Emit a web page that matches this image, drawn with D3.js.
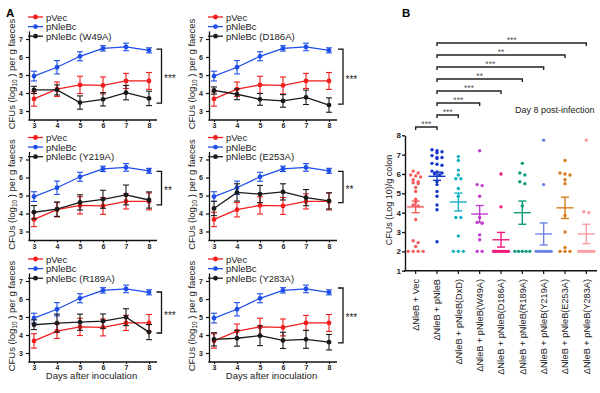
<!DOCTYPE html>
<html><head><meta charset="utf-8">
<script src="https://cdn.jsdelivr.net/npm/d3@7"></script>
<style>
body{margin:0;background:#fff}
svg{display:block}
text{font-family:"Liberation Sans",Arial,sans-serif}
</style>
</head><body>
<svg id="c" width="600" height="393"></svg>
<script>
// ---------- Panel A data ----------
const days = [3,4,5,6,7,8];
const pVecMean = [3.67,4.21,4.45,4.42,4.67,4.67];
const pVecErr  = [0.40,0.40,0.48,0.47,0.42,0.47];
const pNleBcMean = [4.94,5.43,6.04,6.48,6.56,6.37];
const pNleBcErr  = [0.27,0.37,0.25,0.15,0.21,0.14];
const mutantLabels = ["pNleBc (W49A)","pNleBc (D186A)","pNleBc (Y219A)","pNleBc (E253A)","pNleBc (R189A)","pNleBc (Y283A)"];
const w49aMean  = [4.17,4.17,3.47,3.65,4.02,3.70];
const w49aErr   = [0.20,0.28,0.37,0.37,0.40,0.40];
const d186aMean = [4.14,3.93,3.65,3.56,3.76,3.33];
const d186aErr  = [0.20,0.30,0.33,0.35,0.40,0.40];
const y219aMean = [4.07,4.24,4.62,4.79,5.03,4.75];
const y219aErr  = [0.37,0.40,0.42,0.50,0.55,0.45];
const e253aMean = [4.28,5.17,5.08,5.20,4.88,4.70];
const e253aErr  = [0.40,0.48,0.48,0.45,0.45,0.45];
const r189aMean = [4.57,4.66,4.71,4.77,4.99,4.16];
const r189aErr  = [0.27,0.50,0.45,0.40,0.47,0.42];
const y283aMean = [3.76,3.82,3.96,3.70,3.76,3.60];
const y283aErr  = [0.37,0.44,0.55,0.45,0.50,0.43];
const mutantMeans = [w49aMean,d186aMean,y219aMean,e253aMean,r189aMean,y283aMean];
const mutantErrs  = [w49aErr,d186aErr,y219aErr,e253aErr,r189aErr,y283aErr];
const sigA = ["***","***","**","**","***","***"];
const bracketTopA = [6.44,6.44,6.34,6.34,6.39,6.61];
const bracketBottomA = [3.44,3.38,4.48,4.60,4.11,3.56];
const yTicksA = [3,4,5,6,7];

// ---------- Panel B data ----------
const categoriesB = ["ΔNleB + Vec","ΔNleB + pNleB","ΔNleB + pNleB(DxD)","ΔNleB + pNleB(W49A)","ΔNleB + pNleB(D186A)","ΔNleB + pNleB(R189A)","ΔNleB + pNleB(Y219A)","ΔNleB + pNleB(E253A)","ΔNleB + pNleB(Y283A)"];
const vecPts   = [6.15,6.05,5.95,5.9,5.85,5.7,5.6,5.55,5.5,5.3,5.1,4.7,4.55,4.4,4.35,3.65,2.55,2.45,2.25,2.0,2.0,2.0,2.0];
const pNleBPts = [7.25,7.2,7.15,7.1,6.95,6.85,6.85,6.8,6.55,6.5,6.45,6.15,6.1,6.05,6.0,5.95,5.6,5.45,5.1,4.85,4.4,4.15,2.5];
const dxdPts   = [6.9,6.7,6.2,5.95,5.75,5.75,5.25,4.85,3.75,3.75,2.8,2.0,2.0,2.0];
const w49aPts  = [7.2,5.45,5.4,4.85,3.75,3.5,3.45,2.85,2.6,2.0,2.0];
const d186aPts = [6.0,4.3,2.0,2.0,2.0,2.0,2.0,2.0,2.0,2.0,2.0];
const r189aPts = [6.55,6.05,5.95,5.6,5.5,4.35,2.0,2.0,2.0,2.0,2.0];
const y219aPts = [7.75,5.45,2.0,2.0,2.0,2.0,2.0,2.0,2.0,2.0];
const e253aPts = [6.7,6.05,6.0,5.95,5.7,5.5,3.85,3.0,2.2,2.0,2.0,2.0];
const y283aPts = [7.75,4.05,4.0,2.0,2.0,2.0,2.0,2.0,2.0,2.0,2.0];
const pointsB = [vecPts,pNleBPts,dxdPts,w49aPts,d186aPts,r189aPts,y219aPts,e253aPts,y283aPts];
const meanB = [4.30,5.88,4.55,3.93,2.60,4.00,2.90,4.25,2.90];
const semB  = [0.30,0.21,0.46,0.44,0.38,0.60,0.57,0.55,0.50];
const colorsB = ["#f45b5b","#1638c8","#14b1c1","#c03ccf","#f0187c","#0f9b7b","#6b84e6","#d9791a","#ff9ba3"];
const compB = [[0,1,"***"],[1,2,"***"],[1,3,"***"],[1,4,"***"],[1,5,"**"],[1,6,"***"],[1,7,"**"],[1,8,"***"]];
const yTicksB = [1,2,3,4,5,6,7,8];

const svg = d3.select("#c");
const RED="#f21d1d", BLUE="#1f4fe8", BLACK="#1a1a1a";
const fmt = d3.format("d");

// ---------- Panel A ----------
svg.append("text").attr("x",6).attr("y",17).attr("font-size",11.5).attr("font-weight","bold").text("A");
const colX=[0,180], rowY=[0,120.5,242];
const x = d3.scaleLinear().domain([3,8]).range([34,149]);
const y = d3.scaleLinear().domain([2.5,7.45]).range([120,30.9]);

function series(g, means, errs, color){
  const line = d3.line().x((d,i)=>x(days[i])).y(d=>y(d));
  g.append("path").attr("d",line(means)).attr("fill","none").attr("stroke",color).attr("stroke-width",1.3);
  const eb = g.append("g").attr("stroke",color).attr("stroke-width",1.1);
  means.forEach((m,i)=>{
    const cx=x(days[i]), t=y(m+errs[i]), b=y(m-errs[i]);
    eb.append("line").attr("x1",cx).attr("x2",cx).attr("y1",t).attr("y2",b);
    eb.append("line").attr("x1",cx-3).attr("x2",cx+3).attr("y1",t).attr("y2",t);
    eb.append("line").attr("x1",cx-3).attr("x2",cx+3).attr("y1",b).attr("y2",b);
  });
  g.append("g").selectAll("circle").data(means).join("circle")
    .attr("cx",(d,i)=>x(days[i])).attr("cy",d=>y(d)).attr("r",2.4).attr("fill",color);
}

mutantLabels.forEach((lab,p)=>{
  const col=p%2, row=Math.floor(p/2);
  const g = svg.append("g").attr("transform",`translate(${colX[col]},${rowY[row]})`);
  const ya = g.append("g").attr("transform","translate(29,0)")
    .call(d3.axisLeft(y).tickValues(yTicksA).tickFormat(fmt).tickSize(3).tickPadding(3).tickSizeOuter(0));
  ya.select(".domain").attr("stroke","#111").attr("stroke-width",1.3);
  ya.selectAll(".tick line").attr("stroke","#111").attr("stroke-width",1.2);
  ya.selectAll("text").attr("font-size",7).attr("font-weight","bold").attr("fill","#222");
  const xa = g.append("g").attr("transform","translate(0,120)")
    .call(d3.axisBottom(x).tickValues(days).tickFormat(fmt).tickSize(2).tickPadding(1.5).tickSizeOuter(0));
  xa.select(".domain").remove();
  xa.selectAll(".tick line").attr("stroke","#111").attr("stroke-width",1.2);
  xa.selectAll("text").attr("font-size",7).attr("font-weight","bold").attr("fill","#222");
  g.append("line").attr("x1",28.4).attr("x2",157).attr("y1",120).attr("y2",120).attr("stroke","#111").attr("stroke-width",1.3);
  const yl = g.append("text").attr("transform","translate(15,74) rotate(-90)").attr("text-anchor","middle")
    .attr("font-size",9.5).attr("fill","#222");
  yl.append("tspan").text("CFUs (log");
  yl.append("tspan").attr("font-size",6.5).attr("dy",2).text("10");
  yl.append("tspan").attr("dy",-2).text(" ) per g faeces");
  series(g, pVecMean, pVecErr, RED);
  series(g, pNleBcMean, pNleBcErr, BLUE);
  series(g, mutantMeans[p], mutantErrs[p], BLACK);
  const leg = [["pVec",RED],["pNleBc",BLUE],[lab,BLACK]];
  leg.forEach((d,i)=>{
    const ly = 17 + i*9.6;
    g.append("line").attr("x1",28).attr("x2",43).attr("y1",ly).attr("y2",ly).attr("stroke",d[1]).attr("stroke-width",1.3);
    g.append("circle").attr("cx",35.5).attr("cy",ly).attr("r",2.4).attr("fill",d[1]);
    g.append("text").attr("x",46).attr("y",ly+3.5).attr("font-size",9.5).attr("fill","#222").text(d[0]);
  });
  const bx = x(8) + 12.5 + col*1.5, bt=y(bracketTopA[p]), bb=y(bracketBottomA[p]);
  g.append("path").attr("d",`M${bx-5},${bt}H${bx}V${bb}H${bx-5}`).attr("fill","none").attr("stroke","#111").attr("stroke-width",1.3);
  g.append("text").attr("x",bx+2.5).attr("y",(bt+bb)/2+6).attr("font-size",10).attr("fill","#222").text(sigA[p]);
});
[0,1].forEach(c=>{
  svg.append("text").attr("x",colX[c]+x(5.5)).attr("y",379).attr("text-anchor","middle")
    .attr("font-size",9.5).attr("fill","#222").text("Days after inoculation");
});

// ---------- Panel B ----------
svg.append("text").attr("x",402).attr("y",17).attr("font-size",11.5).attr("font-weight","bold").text("B");
const xb = d3.scaleBand().domain(d3.range(categoriesB.length)).range([405,597]);
const yb = d3.scaleLinear().domain([1,8]).range([270.7,135.3]);
const gb = svg.append("g");
const yba = gb.append("g").attr("transform","translate(405,0)")
  .call(d3.axisLeft(yb).tickValues(yTicksB).tickFormat(fmt).tickSize(3).tickPadding(1).tickSizeOuter(0));
yba.select(".domain").attr("stroke","#111").attr("stroke-width",1.4);
yba.selectAll(".tick line").attr("stroke","#111").attr("stroke-width",1.3);
yba.selectAll("text").attr("font-size",8).attr("font-weight","bold").attr("fill","#222");
gb.append("line").attr("x1",404.3).attr("x2",597).attr("y1",270.7).attr("y2",270.7).attr("stroke","#111").attr("stroke-width",1.4);
gb.append("text").attr("transform","translate(392,200) rotate(-90)").attr("text-anchor","middle")
  .attr("font-size",9).attr("fill","#222").text("CFUs (Log 10)/g colon");
categoriesB.forEach((c,i)=>{
  const cx = xb(i)+xb.bandwidth()/2;
  gb.append("line").attr("x1",cx).attr("x2",cx).attr("y1",270.7).attr("y2",274).attr("stroke","#111").attr("stroke-width",1.2);
  gb.append("text").attr("transform",`translate(${cx+3.3},279) rotate(-90)`).attr("text-anchor","end")
    .attr("font-size",9.2).attr("fill","#222").text(c);
});
function swarm(vals){
  const s = vals.slice().sort((a,b)=>b-a);
  const out=[]; let cl=[];
  const flush=()=>{ const n=cl.length; const sp = n>1?Math.min(5,15/(n-1)):0;
    cl.forEach((v,k)=>out.push({v,dx:(k-(n-1)/2)*sp})); cl=[]; };
  s.forEach(v=>{ if(cl.length && cl[0]-v>0.13) flush(); cl.push(v); });
  flush();
  return out;
}
pointsB.forEach((vals,i)=>{
  const cx = xb(i)+xb.bandwidth()/2, col=colorsB[i];
  gb.append("g").selectAll("circle").data(swarm(vals)).join("circle")
    .attr("cx",d=>cx+d.dx).attr("cy",d=>yb(d.v)).attr("r",1.7).attr("fill",col);
  const m=yb(meanB[i]), t=yb(meanB[i]+semB[i]), b=yb(meanB[i]-semB[i]);
  const eg = gb.append("g").attr("stroke",col).attr("stroke-width",1.4);
  eg.append("line").attr("x1",cx-8.5).attr("x2",cx+8.5).attr("y1",m).attr("y2",m);
  eg.append("line").attr("x1",cx).attr("x2",cx).attr("y1",t).attr("y2",b);
  eg.append("line").attr("x1",cx-4).attr("x2",cx+4).attr("y1",t).attr("y2",t);
  eg.append("line").attr("x1",cx-4).attr("x2",cx+4).attr("y1",b).attr("y2",b);
});
compB.forEach((d,k)=>{
  const x1 = xb(d[0])+xb.bandwidth()/2, x2 = xb(d[1])+xb.bandwidth()/2;
  const by = 127 - k*12;
  gb.append("path").attr("d",`M${x1},${by+3}V${by}H${x2}V${by+3}`).attr("fill","none").attr("stroke","#222").attr("stroke-width",1.4);
  gb.append("text").attr("x",(x1+x2)/2).attr("y",by-0.5).attr("text-anchor","middle")
    .attr("font-size",8.5).attr("fill","#555").text(d[2]);
});
gb.append("text").attr("x",515).attr("y",113).attr("font-size",9).attr("fill","#222").text("Day 8 post-infection");
</script>
</body></html>
